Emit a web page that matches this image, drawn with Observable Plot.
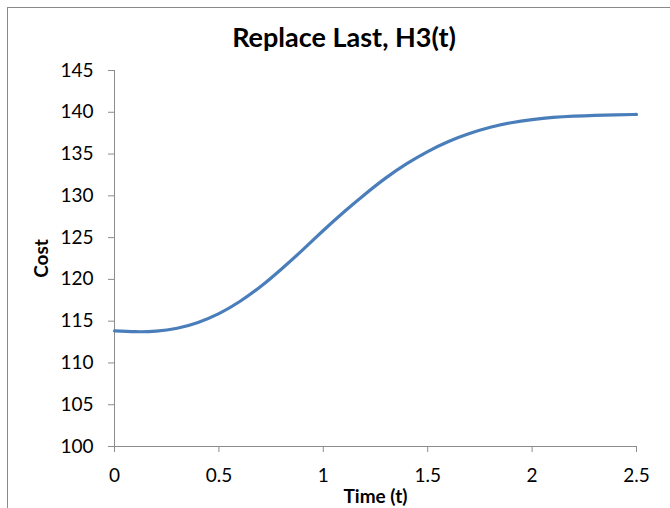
<!DOCTYPE html>
<html>
<head>
<meta charset="utf-8">
<script src="https://cdn.jsdelivr.net/npm/d3@7"></script>
<script src="https://cdn.jsdelivr.net/npm/@observablehq/plot@0.6"></script>
<style>
  html, body { margin: 0; padding: 0; background: #fff; }
  #wrap { position: relative; width: 670px; height: 508px; overflow: hidden; font-family: Lato, "Open Sans", sans-serif; }
  #frame { position: absolute; left: 7px; top: 7px; width: 700px; height: 540px; border: 1px solid #8a8a8a; box-sizing: border-box; }
  #title { position: absolute; left: 0; top: 23px; width: 688px; text-align: center; font-weight: bold; font-size: 27px; line-height: 27px; color: #000; }
  #chart { position: absolute; left: 0; top: 50px; }
</style>
</head>
<body>
<div id="wrap">
  <div id="frame"></div>
  <div id="title"></div>
  <div id="chart"></div>
</div>
<script>
const titleText = "Replace Last, H3(t)";
const xLabel = "Time (t)";
const yLabel = "Cost";
const time = [0, 0.1, 0.2, 0.3, 0.4, 0.5, 0.6, 0.7, 0.8, 0.9, 1.0, 1.1, 1.2, 1.3, 1.4, 1.5, 1.6, 1.7, 1.8, 1.9, 2.0, 2.1, 2.2, 2.3, 2.4, 2.5];
const cost = [113.84, 113.74, 113.8, 114.15, 114.85, 115.9, 117.35, 119.15, 121.25, 123.5, 125.85, 128.1, 130.2, 132.15, 133.85, 135.3, 136.5, 137.45, 138.2, 138.75, 139.12, 139.38, 139.54, 139.64, 139.7, 139.74];
const xTicks = [0, 0.5, 1, 1.5, 2, 2.5];
const yTicks = [100, 105, 110, 115, 120, 125, 130, 135, 140, 145];

const data = time.map((t, i) => ({t, c: cost[i]}));
const axisColor = "#8c8c8c";
const font = "Lato, 'Open Sans', sans-serif";

const chart = Plot.plot({
  width: 670,
  height: 458,
  marginLeft: 114,
  marginRight: 34,
  marginTop: 20,
  marginBottom: 62,
  style: {fontFamily: font, fontSize: "19px", color: "#000", background: "transparent"},
  x: {domain: [0, 2.5]},
  y: {domain: [100, 145]},
  marks: [
    Plot.axisY({ticks: yTicks, tickSize: 6, tickPadding: 15, stroke: axisColor, fill: "#000", fontSize: 19, label: null, tickFormat: d => String(d)}),
    Plot.axisX({ticks: xTicks, tickSize: 6, tickPadding: 16, stroke: axisColor, fill: "#000", fontSize: 19, label: null, tickFormat: d => String(d)}),
    Plot.ruleX([0], {stroke: axisColor, strokeWidth: 1}),
    Plot.ruleY([100], {stroke: axisColor, strokeWidth: 1}),
    Plot.line(data, {x: "t", y: "c", stroke: "#4A7EBB", strokeWidth: 3.2, curve: "natural"}),
    Plot.text([xLabel], {text: d => d, frameAnchor: "bottom", lineAnchor: "middle", textAnchor: "middle", dy: 50.5, fontWeight: "bold", fontSize: 19, fill: "#000"}),
    Plot.text([yLabel], {text: d => d, frameAnchor: "left", lineAnchor: "middle", textAnchor: "middle", dx: -72.5, rotate: -90, fontWeight: "bold", fontSize: 19, fill: "#000"})
  ]
});
document.getElementById("chart").appendChild(chart);
document.getElementById("title").textContent = titleText;
</script>
</body>
</html>
